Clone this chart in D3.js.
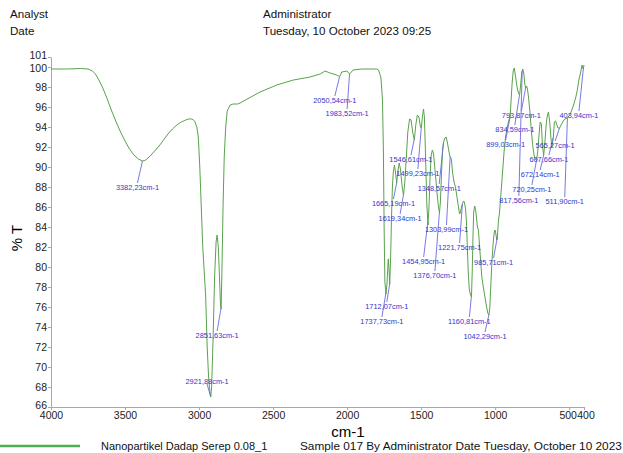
<!DOCTYPE html>
<html>
<head>
<meta charset="utf-8">
<script src="https://cdn.jsdelivr.net/npm/d3@7"></script>
<style>
  body { margin: 0; background: #fff; }
  svg { font-family: "Liberation Sans", Arial, sans-serif; }
  .axis path, .axis line { stroke: #a8a8a8; }
  .axis text { fill: #222; font-size: 10.5px; }
</style>
</head>
<body>
<svg id="ftir" width="623" height="453"></svg>
<script>
// wavenumber (cm-1), %T
var spectrum = [
  [4000,99.8],[3900,99.8],[3800,99.85],[3750,99.8],[3720,99.6],[3700,99.3],[3680,98.8],[3650,97.9],
  [3620,96.8],[3590,95.6],[3560,94.5],[3530,93.5],[3500,92.6],[3470,91.8],[3440,91.2],[3410,90.8],
  [3382,90.6],[3360,90.7],[3330,91.1],[3300,91.6],[3270,92.1],[3240,92.7],[3210,93.3],[3180,93.8],
  [3150,94.2],[3120,94.5],[3090,94.7],[3070,94.8],[3049,94.8],[3030,94.6],[3015,94.0],[3005,93.0],
  [2995,90],[2985,86],[2975,82],[2965,79.5],[2955,77],[2945,72],[2935,68.8],[2925,67.3],[2921,67.0],
  [2915,68],[2905,73],[2895,79],[2885,82.5],[2878,83.2],[2870,82],[2862,79],[2855,76.2],[2851,75.8],
  [2845,80],[2838,86],[2830,91],[2820,94],[2810,95.6],[2790,96.2],[2770,96.3],[2740,96.3],[2723,96.4],
  [2650,97.0],[2588,97.5],[2475,98.2],[2363,98.7],[2250,99.0],[2182,99.3],[2149,99.6],[2115,99.4],
  [2070,99.2],[2050,99.05],[2036,99.5],[2002,99.6],[1983,99.3],[1960,99.7],[1900,99.8],[1800,99.8],
  [1788,99.7],[1772,99.0],[1761,96.7],[1755,91.7],[1750,84],[1745,78.5],[1737,77.3],[1730,78.5],
  [1722,80.8],[1716,79.5],[1712,78.3],[1706,81],[1700,85],[1694,88],[1688,89.5],[1680,90.2],
  [1672,89.3],[1665,88.4],[1658,89.5],[1648,90.4],[1640,89.8],[1628,88],[1619,87.2],[1610,88.5],
  [1600,91],[1590,93.5],[1578,94.8],[1568,94.7],[1556,93.4],[1546,92.7],[1536,94.2],[1526,95.2],
  [1515,95.0],[1506,94.1],[1499,93.9],[1490,95.2],[1484,95.8],[1478,95],[1470,91],[1462,86.5],
  [1454,84.2],[1447,86],[1440,89],[1432,91.2],[1424,91.7],[1416,91.3],[1408,90],[1398,88.3],
  [1390,87],[1383,86],[1376,85.4],[1370,86.5],[1362,89.5],[1355,91.8],[1348,92.5],[1340,92.9],
  [1331,93.0],[1322,92.4],[1314,91.7],[1308,91.2],[1303,91.0],[1296,90.8],[1288,89.5],[1278,88.5],
  [1268,88],[1258,87],[1248,86],[1240,85.3],[1234,85.5],[1228,86],[1221,86.3],[1214,86.6],
  [1208,86.5],[1200,85.8],[1194,84.5],[1188,82],[1182,79.5],[1175,77.8],[1168,77.3],[1160,77.0],
  [1155,79.5],[1150,83],[1145,85.5],[1138,86.1],[1130,85.5],[1120,84],[1113,83.7],[1100,81],
  [1090,79.0],[1080,78],[1069,77.0],[1058,76],[1050,75.4],[1042,75.2],[1036,76],[1030,78],
  [1022,80.5],[1014,82.3],[1006,83.5],[1000,83.7],[994,83.2],[989,82.7],[985,83.0],[978,84.6],
  [971,85.4],[960,87.5],[950,89.5],[940,91.5],[930,93],[915,94.2],[905,94.8],[899,95.0],
  [893,96.5],[885,98.5],[878,99.6],[871,99.9],[862,99],[850,97.8],[840,97.3],[834,97.3],[828,98.2],
  [820,99.5],[813,99.8],[806,99.3],[800,98.3],[793,97.9],[788,98.1],[782,97.8],[775,97],[765,95.5],
  [755,93.5],[745,92],[735,91],[725,90.7],[720,90.7],[713,91.5],[705,93],[696,94.5],[688,94.3],
  [680,92.0],[672,91.2],[664,92.5],[655,94.3],[647,95.2],[640,95.5],[632,94.6],[624,93],[617,92.0],
  [607,93.0],[600,94.5],[592,94.6],[583,94.2],[575,93.9],[565,93.9],[555,94.2],[540,94.6],
  [530,94.8],[511,94.9],[490,95.4],[470,96.2],[455,97.0],[445,97.7],[435,98.7],[425,99.3],[413,100.2],[405,99.8],[400,100.2]
];

// peak label: wavenumber, label position (wavenumber, %T)
var peakWn   = [3382.23, 2921.88, 2851.63, 2050.54, 1983.52, 1737.73, 1712.07, 1665.19, 1619.34,
                1546.61, 1499.23, 1454.95, 1376.70, 1348.57, 1303.99, 1221.75, 1160.81, 1042.29,
                985.71, 899.03, 834.59, 817.56, 793.87, 720.25, 672.14, 607.66, 565.27, 511.90, 403.94];
var labelWn  = [3416, 2946, 2878, 2083, 2000, 1765, 1732, 1687, 1642,
                1569, 1522, 1483, 1407, 1378, 1329, 1240, 1174, 1069,
                1011, 929, 867, 840, 823, 752, 696, 637, 595, 530, 434];
var labelT   = [88.0, 68.6, 73.2, 96.7, 95.4, 74.6, 76.1, 86.4, 84.9,
                90.8, 89.4, 80.6, 79.2, 87.9, 83.8, 82.0, 74.6, 73.1,
                80.5, 92.3, 93.8, 86.7, 95.2, 87.8, 89.3, 90.8, 92.2, 86.6, 95.2];

var xTicks = [4000, 3500, 3000, 2500, 2000, 1500, 1000, 500, 400];
var yTicks = [101, 100, 98, 96, 94, 92, 90, 88, 86, 84, 82, 80, 78, 76, 74, 72, 70, 68, 66];

var svg = d3.select("svg#ftir");

var x = d3.scaleLinear().domain([4000, 400]).range([51, 584]);
var y = d3.scaleLinear().domain([66, 101]).range([407, 57]);

// header
var header = svg.append("g").attr("font-size", 11.6).attr("fill", "#111");
header.append("text").attr("x", 10).attr("y", 18).text("Analyst");
header.append("text").attr("x", 10).attr("y", 35).text("Date");
header.append("text").attr("x", 263).attr("y", 18).text("Administrator");
header.append("text").attr("x", 263).attr("y", 35).text("Tuesday, 10 October 2023 09:25");

// axes
var xAxis = svg.append("g")
    .attr("class", "axis")
    .attr("transform", "translate(0,407)")
    .call(d3.axisBottom(x).tickValues(xTicks).tickFormat(d3.format("d")).tickSizeInner(3).tickSizeOuter(0).tickPadding(2));
// 500 and 400 sit side by side as "500400"
xAxis.selectAll(".tick text")
    .attr("dx", function(d) { return d === 500 ? -1.5 : d === 400 ? 1.5 : 0; });

var yAxis = svg.append("g")
    .attr("class", "axis")
    .attr("transform", "translate(51,0)")
    .call(d3.axisLeft(y).tickValues(yTicks).tickFormat(d3.format("d")).tickSizeInner(3).tickSizeOuter(0).tickPadding(1));
yAxis.selectAll(".tick text")
    .attr("y", function(d) { return d === 101 ? -2 : d === 100 ? 1 : d === 66 ? -2 : 0; });

svg.append("text")
    .attr("transform", "translate(22,238) rotate(-90)")
    .attr("text-anchor", "middle")
    .attr("font-size", 15)
    .text("% T");

svg.append("text")
    .attr("x", 348)
    .attr("y", 437)
    .attr("text-anchor", "middle")
    .attr("font-size", 15)
    .text("cm-1");

// spectrum
var line = d3.line()
    .x(function(d) { return x(d[0]); })
    .y(function(d) { return y(d[1]); });

svg.append("path")
    .datum(spectrum)
    .attr("fill", "none")
    .attr("stroke", "#5aa24e")
    .attr("stroke-width", 1)
    .attr("d", line);

// value of spectrum at a wavenumber
var bis = d3.bisector(function(d) { return -d[0]; }).left;
function tAt(wn) {
  var i = bis(spectrum, -wn);
  if (i <= 0) return spectrum[0][1];
  if (i >= spectrum.length) return spectrum[spectrum.length - 1][1];
  var a = spectrum[i - 1], b = spectrum[i];
  var f = (a[0] - wn) / (a[0] - b[0]);
  return a[1] + f * (b[1] - a[1]);
}

// peak labels
var peaks = peakWn.map(function(wn, i) {
  return {wn: wn, t: tAt(wn), lx: labelWn[i], lt: labelT[i]};
});

var pk = svg.append("g").selectAll("g").data(peaks).enter().append("g");

pk.append("line")
    .attr("x1", function(d) { return x(d.lx); })
    .attr("y1", function(d) { return y(d.lt) + (d.t > d.lt ? -4 : 3); })
    .attr("x2", function(d) { return x(d.wn); })
    .attr("y2", function(d) { return y(d.t); })
    .attr("stroke", "#6a6ae0")
    .attr("stroke-width", 0.9);

pk.append("text")
    .attr("x", function(d) { return x(d.lx); })
    .attr("y", function(d) { return y(d.lt); })
    .attr("dy", "0.35em")
    .attr("text-anchor", "middle")
    .attr("font-size", 7.4)
    .attr("fill", "#3434cc")
    .text(function(d) { return d3.format(".2f")(d.wn).replace(".", ",") + "cm-1"; });

// legend
svg.append("line")
    .attr("x1", 0).attr("x2", 80)
    .attr("y1", 446).attr("y2", 446)
    .attr("stroke", "#4caf50")
    .attr("stroke-width", 2.5);

var legend = svg.append("g").attr("fill", "#111");
legend.append("text").attr("x", 101).attr("y", 450).attr("font-size", 11).text("Nanopartikel Dadap Serep 0.08_1");
legend.append("text").attr("x", 300).attr("y", 450).attr("font-size", 11.8).text("Sample 017 By Administrator Date Tuesday, October 10 2023");
</script>
</body>
</html>
